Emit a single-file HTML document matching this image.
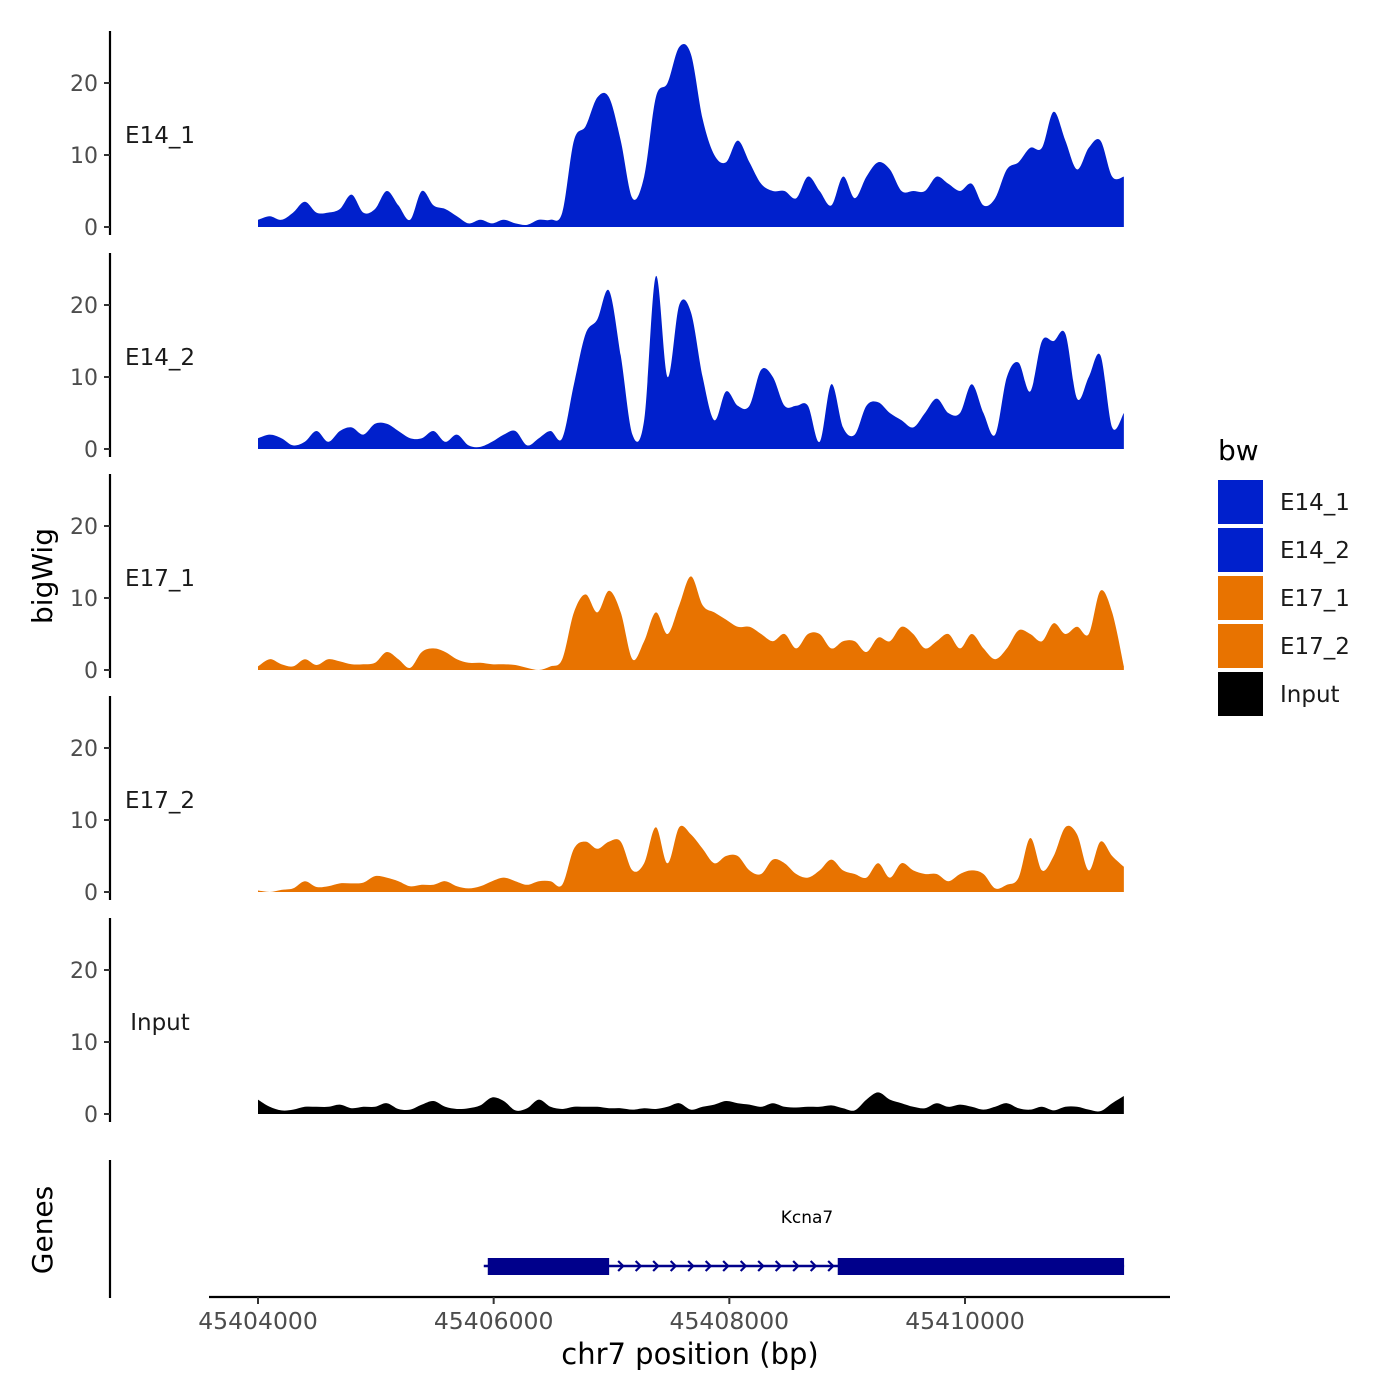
<!DOCTYPE html>
<html><head><meta charset="utf-8"><style>
body{margin:0;background:#fff}
svg{display:block;font-family:"DejaVu Sans","Liberation Sans",sans-serif}
</style></head><body>
<svg id="chart" width="1400" height="1400" viewBox="0 0 1400 1400" xmlns="http://www.w3.org/2000/svg">
<g id="tracks"></g>
<g id="genes"></g>
<text x="0" y="0" font-size="28" fill="#000" text-anchor="middle" transform="translate(52,576) rotate(-90)">bigWig</text>
<text x="0" y="0" font-size="28" fill="#000" text-anchor="middle" transform="translate(52,1230) rotate(-90)">Genes</text>
<text x="690" y="1364" font-size="29" fill="#000" text-anchor="middle">chr7 position (bp)</text>
<g id="legend"></g>
</svg>
<script>
const trackNames = ["E14_1","E14_2","E17_1","E17_2","Input"];
const trackColors = ["#0020CC","#0020CC","#E87300","#E87300","#000000"];
const yTicks = [0,10,20];
const xTicks = [45404000,45406000,45408000,45410000];
const startBp = 45404000, stepBp = 99.3;
const e14_1 = [1,1.5,1,2,3.5,2,2,2.5,4.5,2,2.5,5,3,1,5,3,2.5,1.5,0.5,1,0.5,1,0.5,0.3,1,1,2,12,14,18,18,12,4,7,18,20,25,24,15,10,9,12,9,6,5,5,4,7,5,3,7,4,7,9,8,5,5,5,7,6,5,6,3,4,8,9,11,11,16,12,8,11,12,7,7];
const e14_2 = [1.5,2,1.5,0.5,1,2.5,1,2.5,3,2,3.5,3.5,2.5,1.5,1.5,2.5,1,2,0.5,0.3,1,2,2.5,0.5,1.5,2.5,1.5,9,16,18,22,13,2,4,24,10,20,19,10,4,8,6,6,11,10,6,6,6,1,9,3,2,6,6.5,5,4,3,5,7,5,5,9,5,2,10,12,8,15,15,16,7,10,13,3,5];
const e17_1 = [0.5,1.5,0.8,0.5,1.5,0.7,1.5,1.2,0.8,0.8,1,2.5,1.5,0.3,2.5,3,2.5,1.5,1,1,0.8,0.8,0.7,0.3,0,0.5,1.5,8,10.5,8,11,8,1.5,4,8,5,9,13,9,8,7,6,6,5,4,5,3,5,5,3,4,4,2.5,4.5,4,6,5,3,4,5,3,5,3,1.5,3,5.5,5,4,6.5,5,6,5,11,8,0.5];
const e17_2 = [0.2,0,0.3,0.5,1.5,0.7,0.8,1.2,1.2,1.3,2.2,2,1.5,0.8,1,1,1.5,0.8,0.5,0.8,1.5,2,1.5,1,1.5,1.5,1,6,7,6,7,7,3,4,9,4,9,8,6,4,5,5,3,2.5,4.5,4,2.5,2,3,4.5,3,2.5,2,4,2,4,3,2.5,2.5,1.5,2.5,3,2.5,0.5,1,2,7.5,3,5,9,8,3,7,5,3.5];
const inputVals = [2,1,0.5,0.6,1,1,1,1.3,0.8,1,1,1.5,0.7,0.6,1.3,1.8,1,0.7,0.8,1.2,2.3,1.8,0.5,0.8,2,1,0.7,1,1,1,0.8,0.8,0.6,0.8,0.7,1,1.5,0.6,1,1.3,1.8,1.5,1.3,1,1.5,1,0.9,1,1,1.2,0.8,0.5,2,3,2,1.5,1,0.8,1.5,1,1.3,1,0.6,1,1.5,0.8,0.6,1,0.5,1,1,0.6,0.4,1.5,2.5];
const seriesList = [e14_1,e14_2,e17_1,e17_2,inputVals];
const geneName = "Kcna7";
const geneStart = 45405950, geneEnd = 45411350, exon1End = 45406980, exon2Start = 45408920;

const NS="http://www.w3.org/2000/svg";
function mk(tag,attrs,parent){const e=document.createElementNS(NS,tag);for(const k in attrs)e.setAttribute(k,attrs[k]);parent.appendChild(e);return e;}
const xScale = bp => 258 + (bp-45404000)*(707/6000);
const zeroYs = [227,449,670,892,1114];
const yScale = (v,p) => zeroYs[p] - v*7.2;

const tracks=document.getElementById('tracks');
seriesList.forEach((vals,p)=>{
  const g=mk('g',{},tracks);
  
  
  const al=mk('line',{x1:110,x2:110,y1:zeroYs[p]-196,y2:zeroYs[p]+8,stroke:'#000','stroke-width':2.2},g);
  
  
  yTicks.forEach(t=>{
    const y=yScale(t,p);
    const tk=mk('line',{x1:104,x2:110,y1:y,y2:y,stroke:'#333','stroke-width':2},g);
    
    
    const tl=mk('text',{x:98,y:y+8,'font-size':22,fill:'#4d4d4d','text-anchor':'end'},g);
    tl.textContent=t;
    
    
  });
  const lab=mk('text',{x:160,y:zeroYs[p]-84,'font-size':23,fill:'#1a1a1a','text-anchor':'middle'},g);
  lab.textContent=trackNames[p];
  
  
  const pts=vals.map((v,i)=>[xScale(startBp+i*stepBp),yScale(v,p)]);
  let d=`M${pts[0][0]},${zeroYs[p]} L${pts[0][0]},${pts[0][1]}`;
  for(let i=0;i<pts.length-1;i++){
    const p0=pts[Math.max(0,i-1)],p1=pts[i],p2=pts[i+1],p3=pts[Math.min(pts.length-1,i+2)];
    const c1=[p1[0]+(p2[0]-p0[0])/6,Math.min(zeroYs[p],p1[1]+(p2[1]-p0[1])/6)];
    const c2=[p2[0]-(p3[0]-p1[0])/6,Math.min(zeroYs[p],p2[1]-(p3[1]-p1[1])/6)];
    d+=` C${c1[0]},${c1[1]} ${c2[0]},${c2[1]} ${p2[0]},${p2[1]}`;
  }
  d+=` L${pts[pts.length-1][0]},${zeroYs[p]} Z`;
  const area=mk('path',{d:d,fill:trackColors[p]},g);
  
  
});

const gg=document.getElementById('genes');
const gl=mk('line',{x1:110,x2:110,y1:1160,y2:1298,stroke:'#000','stroke-width':2.2},gg);


const xl=mk('line',{x1:209,x2:1170,y1:1297,y2:1297,stroke:'#000','stroke-width':2.2},gg);


xTicks.forEach(t=>{
  const x=xScale(t);
  const tk=mk('line',{x1:x,x2:x,y1:1297,y2:1304,stroke:'#333','stroke-width':2},gg);
  
  
  const tl=mk('text',{x:x,y:1329,'font-size':23.5,fill:'#4d4d4d','text-anchor':'middle'},gg);
  tl.textContent=t;
  
  
});
const intron=mk('line',{x1:xScale(geneStart)-4,x2:xScale(geneEnd),y1:1266,y2:1266,stroke:'#00008B','stroke-width':2.5},gg);


for(let x=xScale(exon1End)+12;x<xScale(exon2Start)-5;x+=17.5){
  const a=mk('path',{d:`M${x-3},${1261} L${x+2},${1266} L${x-3},${1271}`,fill:'none',stroke:'#00008B','stroke-width':2.2},gg);
  
  
}
const ex1=mk('rect',{x:xScale(geneStart),y:1258,width:xScale(exon1End)-xScale(geneStart),height:17,fill:'#00008B'},gg);


const ex2=mk('rect',{x:xScale(exon2Start),y:1258,width:xScale(geneEnd)-xScale(exon2Start),height:17,fill:'#00008B'},gg);


const gn=mk('text',{x:807,y:1223,'font-size':17,fill:'#000','text-anchor':'middle'},gg);
gn.textContent=geneName;



const lg=document.getElementById('legend');
const lt=mk('text',{x:1218,y:460,'font-size':28,fill:'#000'},lg);
lt.textContent='bw';


trackNames.forEach((n,i)=>{
  const y=480+i*48;
  const r=mk('rect',{x:1218,y:y,width:45,height:44,fill:trackColors[i]},lg);
  
  
  const t=mk('text',{x:1280,y:y+30,'font-size':23,fill:'#1a1a1a'},lg);
  t.textContent=n;
  
  
});
</script>
</body></html>
